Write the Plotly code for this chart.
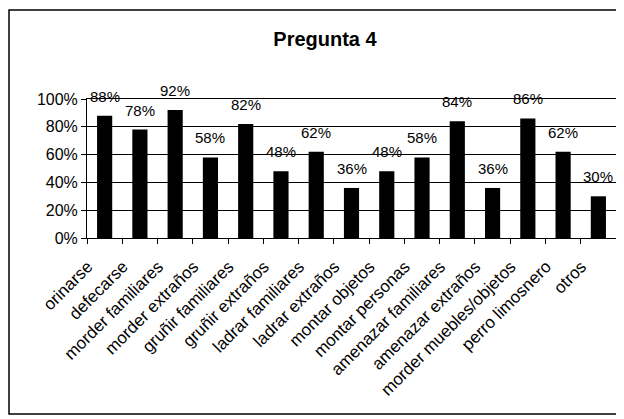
import plotly.graph_objects as go

categories = ["orinarse", "defecarse", "morder familiares", "morder extraños",
              "gruñir familiares", "gruñir extraños", "ladrar familiares",
              "ladrar extraños", "montar objetos", "montar personas",
              "amenazar familiares", "amenazar extraños", "morder muebles/objetos",
              "perro limosnero", "otros"]
values = [0.88, 0.78, 0.92, 0.58, 0.82, 0.48, 0.62, 0.36, 0.48, 0.58, 0.84, 0.36, 0.86, 0.62, 0.30]
labels = [f"{round(v*100)}%" for v in values]
y_ticks = [0, 0.2, 0.4, 0.6, 0.8, 1.0]
y_tick_labels = ["0%", "20%", "40%", "60%", "80%", "100%"]

# page body has an 8px margin, so the figure is 8px smaller than the window
OFF = 8
W, H = 624 - OFF, 419 - OFF
L, T = 87 - OFF, 99 - OFF
R = W - (616 - OFF)
B = H - (238 - OFF)
pw, ph = W - L - R, H - T - B

fig = go.Figure(go.Bar(x=categories, y=values, marker=dict(color="black", line=dict(width=0)),
                       cliponaxis=False))

for c, v, t in zip(categories, values, labels):
    fig.add_annotation(x=c, y=v, text=t, showarrow=False, yanchor="bottom", yshift=9,
                       font=dict(family="Arial", size=15, color="black"))

def px_x(p):
    return (p - OFF - L) / pw

def px_y(p):
    return (H - B - (p - OFF)) / ph

fig.add_shape(type="rect", xref="paper", yref="paper",
              x0=px_x(9), x1=px_x(620), y0=px_y(414), y1=px_y(10),
              line=dict(color="black", width=1.5), layer="below")

fig.update_layout(
    width=W, height=H,
    margin=dict(l=L, r=R, t=T, b=B, autoexpand=False),
    paper_bgcolor="white", plot_bgcolor="white",
    bargap=0.57, showlegend=False,
    title=dict(text="<b>Pregunta 4</b>", x=(325 - OFF) / W, xanchor="center",
               y=1 - (39 - OFF) / H, yanchor="middle", yref="container",
               font=dict(family="Arial", size=20, color="black")),
    font=dict(family="Arial", color="black"),
)
fig.update_xaxes(tickangle=-45, tickfont=dict(family="Arial", size=17, color="black"),
                 showline=True, linecolor="black", linewidth=1, mirror=True,
                 ticks="outside", tickson="boundaries", ticklen=5, tickcolor="black",
                 ticklabelstandoff=11, ticklabelshift=-17,
                 showgrid=False, automargin=False)
fig.update_yaxes(range=[0, 1.0], tickvals=y_ticks, ticktext=y_tick_labels,
                 tickfont=dict(family="Arial", size=16, color="black"),
                 showline=True, linecolor="black", linewidth=1, mirror=True,
                 ticks="outside", ticklen=5, tickcolor="black",
                 showgrid=True, gridcolor="black", gridwidth=1, zeroline=False,
                 automargin=False)

fig.write_html("out.html")
